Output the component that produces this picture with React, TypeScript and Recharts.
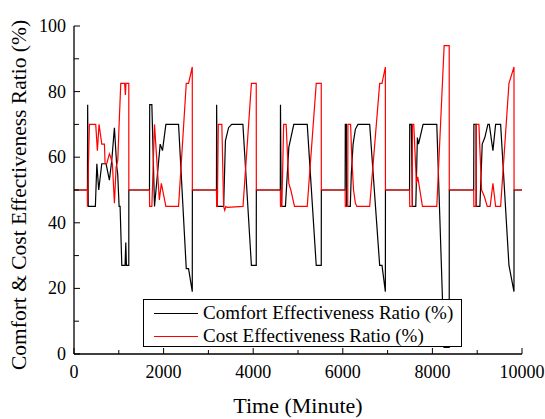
import { LineChart, Line, XAxis, YAxis, Legend, Label } from 'recharts'

const FONT = '"Liberation Serif", "Times New Roman", Times, serif'

// axis ticks (major ones get a label)
const xTicks = [0, 1000, 2000, 3000, 4000, 5000, 6000, 7000, 8000, 9000, 10000]
const yTicks = [0, 10, 20, 30, 40, 50, 60, 70, 80, 90, 100]

// Comfort Effectiveness Ratio (%) — black
const comfortTime = [
  0, 300, 305, 318, 477, 510, 552, 620, 716, 790, 843, 902, 955, 975, 1007, 1029, 1067, 1140, 1156, 1170, 1223, 1224,
  1685, 1690, 1738, 1797, 1924, 1975, 2051, 2334, 2506, 2557, 2640, 2642,
  3180, 3184, 3200, 3340, 3380, 3450, 3520, 3770, 3960, 4068, 4070,
  4605, 4609, 4625, 4720, 4795, 4906, 5206, 5407, 5519, 5521,
  6052, 6056, 6080, 6085, 6167, 6190, 6230, 6280, 6338, 6600, 6823, 6875, 6950, 6952,
  7490, 7494, 7530, 7554, 7629, 7665, 7690, 7792, 8098, 8260, 8375, 8377,
  8922, 8926, 8975, 8978, 9060, 9112, 9170, 9239, 9270, 9351, 9411, 9523, 9709, 9821, 9823, 10000,
]
const comfortValue = [
  50, 50, 76, 45, 45, 58, 50, 58, 58, 53, 59, 69, 57, 55, 45, 45, 27, 27, 34, 27, 27, 50,
  50, 76, 76, 45, 64, 62, 70, 70, 26, 26, 19, 50,
  50, 76, 45, 45, 65, 69, 70, 70, 27, 27, 50,
  50, 76, 45, 45, 63, 70, 70, 27, 27, 50,
  50, 70, 70, 45, 45, 55, 64, 68.5, 70, 70, 27, 27, 19, 50,
  50, 70, 70, 45, 45, 66, 64, 70, 70, 2, 2, 50,
  50, 70, 70, 45, 45, 64, 66, 70, 70, 62, 70, 70, 27, 19, 50, 50,
]

// Cost Effectiveness Ratio (%) — red
const costTime = [
  0, 298, 300, 343, 485, 522, 559, 620, 679, 694, 731, 790, 820, 857, 902, 940, 977, 1007, 1044, 1130, 1148, 1160, 1223, 1224,
  1685, 1688, 1738, 1797, 1905, 1950, 2051, 2334, 2506, 2557, 2640, 2642,
  3180, 3184, 3200, 3221, 3300, 3340, 3365, 3390, 3420, 3773, 3960, 4068, 4070,
  4605, 4609, 4640, 4680, 4735, 4795, 4840, 4922, 5206, 5407, 5519, 5521,
  6052, 6056, 6110, 6114, 6174, 6200, 6240, 6280, 6315, 6600, 6823, 6875, 6950, 6952,
  7490, 7494, 7550, 7554, 7584, 7644, 7673, 7778, 8098, 8262, 8375, 8377,
  8922, 8926, 8975, 8978, 9038, 9098, 9160, 9224, 9290, 9351, 9411, 9523, 9709, 9821, 9823, 10000,
]
const costValue = [
  50, 50, 45, 70, 70, 62, 70, 64, 64, 58, 58, 61, 60, 58, 46, 57, 59, 70, 82.5, 82.5, 79, 82.5, 82.5, 50,
  50, 45, 45, 70, 47, 52, 45, 45, 82.5, 82.5, 87.5, 50,
  50, 45, 45, 70, 70, 45, 43.8, 45, 44.7, 45, 82.5, 82.5, 50,
  50, 45, 45, 70, 70, 52, 50, 45, 45, 82.5, 82.5, 50,
  50, 45, 45, 70, 70, 60, 50, 46, 45, 45, 82.5, 82.5, 87.5, 50,
  50, 45, 45, 70, 70, 52, 54, 45, 45, 94, 94, 50,
  50, 45, 45, 70, 70, 50, 48, 45, 45, 52, 45, 45, 82.5, 87.5, 50, 50,
]

const comfortData = comfortTime.map((t, i) => ({ t, v: comfortValue[i] }))
const costData = costTime.map((t, i) => ({ t, v: costValue[i] }))

const series = [
  { name: 'Comfort Effectiveness Ratio (%)', color: '#000000' },
  { name: 'Cost Effectiveness Ratio (%)', color: '#ff0000' },
]

// inward ticks on all four sides, minor ones shorter
function BottomTick({ x, y, payload }: any) {
  const major = payload.value % 2000 === 0
  return (
    <g>
      <line x1={x} x2={x} y1={y} y2={y - (major ? 6 : 4)} stroke="#000" />
      {major && (
        <text x={x} y={y + 18} textAnchor="middle" dominantBaseline="central" fontSize={18} fontFamily={FONT} fill="#000">
          {payload.value}
        </text>
      )}
    </g>
  )
}

function TopTick({ x, y, payload }: any) {
  const major = payload.value % 2000 === 0
  return <line x1={x} x2={x} y1={y} y2={y + (major ? 6 : 4)} stroke="#000" />
}

function LeftTick({ x, y, payload }: any) {
  const major = payload.value % 20 === 0
  return (
    <g>
      <line x1={x} x2={x + (major ? 6 : 5)} y1={y} y2={y} stroke="#000" />
      {major && (
        <text x={x - 8} y={y} textAnchor="end" dominantBaseline="central" fontSize={18} fontFamily={FONT} fill="#000">
          {payload.value}
        </text>
      )}
    </g>
  )
}

function RightTick({ x, y, payload }: any) {
  const major = payload.value % 20 === 0
  return <line x1={x} x2={x - (major ? 6 : 5)} y1={y} y2={y} stroke="#000" />
}

function XTitle({ viewBox }: any) {
  return (
    <text x={viewBox.x + viewBox.width / 2} y={viewBox.y + 51} textAnchor="middle" dominantBaseline="central" fontSize={22} fontFamily={FONT} fill="#000">
      Time (Minute)
    </text>
  )
}

function YTitle({ viewBox }: any) {
  const cx = 19
  const cy = viewBox.y + viewBox.height / 2 + 5
  return (
    <text x={cx} y={cy} transform={`rotate(-90 ${cx} ${cy})`} textAnchor="middle" dominantBaseline="central" fontSize={21.5} fontFamily={FONT} fill="#000">
      Comfort &amp; Cost Effectiveness Ratio (%)
    </text>
  )
}

function LegendBox() {
  return (
    <div style={{ width: 319, height: 48, boxSizing: 'border-box', border: '1px solid #000', background: '#fff', position: 'relative', fontFamily: FONT, fontSize: 19, color: '#000' }}>
      {series.map((s, i) => (
        <div key={s.name} style={{ position: 'absolute', left: 10, top: 2 + i * 23, height: 22, display: 'flex', alignItems: 'center', whiteSpace: 'nowrap' }}>
          <div style={{ width: 44, height: 0, borderTop: `1.2px solid ${s.color}` }} />
          <span style={{ marginLeft: 5, lineHeight: '22px' }}>{s.name}</span>
        </div>
      ))}
    </div>
  )
}

export default function App() {
  return (
    <div style={{ position: 'fixed', left: 0, top: 0, width: 545, height: 419, background: '#fff' }}>
      <LineChart width={545} height={419} margin={{ top: 26, right: 23, bottom: 0, left: 0 }}>
        <XAxis
          xAxisId="x"
          dataKey="t"
          type="number"
          domain={[0, 10000]}
          ticks={xTicks}
          interval={0}
          height={65}
          tickSize={0}
          tickMargin={0}
          tickLine={false}
          tick={<BottomTick />}
          axisLine={{ stroke: '#000', strokeWidth: 1.3 }}
        >
          <Label content={<XTitle />} />
        </XAxis>
        <XAxis
          xAxisId="top"
          orientation="top"
          dataKey="t"
          type="number"
          domain={[0, 10000]}
          ticks={xTicks}
          interval={0}
          height={0}
          tickSize={0}
          tickMargin={0}
          tickLine={false}
          tick={<TopTick />}
          axisLine={{ stroke: '#000', strokeWidth: 1.3 }}
        />
        <YAxis
          yAxisId="y"
          type="number"
          domain={[0, 100]}
          ticks={yTicks}
          interval={0}
          width={74}
          tickSize={0}
          tickMargin={0}
          tickLine={false}
          tick={<LeftTick />}
          axisLine={{ stroke: '#000', strokeWidth: 1.3 }}
        >
          <Label content={<YTitle />} />
        </YAxis>
        <YAxis
          yAxisId="right"
          orientation="right"
          type="number"
          domain={[0, 100]}
          ticks={yTicks}
          interval={0}
          width={0}
          tickSize={0}
          tickMargin={0}
          tickLine={false}
          tick={<RightTick />}
          axisLine={{ stroke: '#000', strokeWidth: 1.3 }}
        />
        <Line
          xAxisId="x"
          yAxisId="y"
          data={comfortData}
          dataKey="v"
          name={series[0].name}
          type="linear"
          stroke={series[0].color}
          strokeWidth={1.2}
          dot={false}
          activeDot={false}
          isAnimationActive={false}
        />
        <Line
          xAxisId="x"
          yAxisId="y"
          data={costData}
          dataKey="v"
          name={series[1].name}
          type="linear"
          stroke={series[1].color}
          strokeWidth={1.2}
          dot={false}
          activeDot={false}
          isAnimationActive={false}
        />
        <Legend
          layout="vertical"
          align="center"
          verticalAlign="middle"
          content={<LegendBox />}
          wrapperStyle={{ left: 143, top: 299, width: 319, height: 48 }}
        />
      </LineChart>
    </div>
  )
}
